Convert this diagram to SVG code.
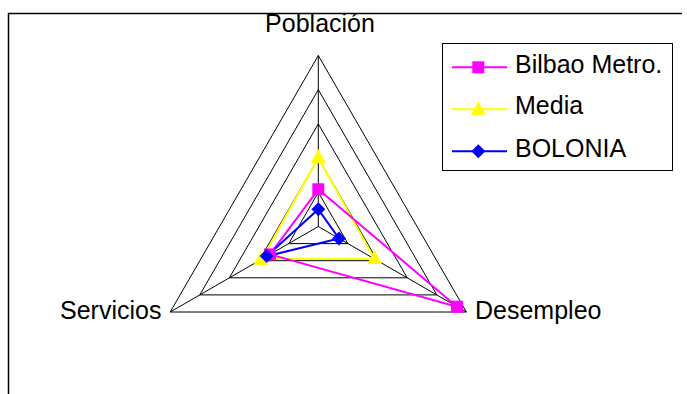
<svg xmlns="http://www.w3.org/2000/svg" width="687" height="394" viewBox="0 0 687 394">
<style>
.lbl{font-family:"Liberation Sans",Arial,sans-serif;font-size:25px;fill:#000}
.grid{fill:none;stroke:#000;stroke-width:1}
.s{fill:none;stroke-width:2;stroke-linejoin:round}
.bil{stroke:#FF00FF}
.med{stroke:#FFFF00}
.bol{stroke:#0000FF}
</style>
<defs>
<rect id="msq" x="-6" y="-6" width="12" height="12" fill="#FF00FF"/>
<polygon id="mtri" points="0,-8 7.5,6 -7.5,6" fill="#FFFF00"/>
<polygon id="mdia" points="0,-7 7,0 0,7 -7,0" fill="#0000FF"/>
</defs>
<rect width="687" height="394" fill="#fff"/>
<polyline points="8.5,394 8.5,13.5 682,13.5" fill="none" stroke="#000" stroke-width="1.5"/>

<g id="grid">
<polygon class="grid" points="318.3,192.3 347.9,243.6 288.7,243.6"/>
<polygon class="grid" points="318.3,158.1 377.5,260.7 259.1,260.7"/>
<polygon class="grid" points="318.3,123.9 407.2,277.8 229.4,277.8"/>
<polygon class="grid" points="318.3,89.7 436.8,294.9 199.8,294.9"/>
<polygon class="grid" points="318.3,55.5 466.4,312 170.2,312"/>
<line class="grid" x1="318.3" y1="226.5" x2="318.3" y2="55.5"/>
<line class="grid" x1="318.3" y1="226.5" x2="466.4" y2="312"/>
<line class="grid" x1="318.3" y1="226.5" x2="170.2" y2="312"/>
</g>

<g id="connectors">
<polygon class="s med" points="318.3,158 374.6,259 262,259"/>
<polygon class="s bil" points="318.3,189.3 457,306.7 270,254.4"/>
<polygon class="s bol" points="318.3,209.3 339,238.5 266.7,256.3"/>
</g>

<g id="series-media">
<use href="#mtri" x="318.3" y="157"/>
<use href="#mtri" x="374.6" y="258"/>
<use href="#mtri" x="261" y="259"/>
</g>
<g id="series-bilbao">
<use href="#msq" x="318.3" y="189.3"/>
<use href="#msq" x="457" y="306.7"/>
<use href="#msq" x="270" y="254.4"/>
</g>
<g id="series-bolonia">
<use href="#mdia" x="318.3" y="209.3"/>
<use href="#mdia" x="339" y="238.5"/>
<use href="#mdia" x="266.7" y="256"/>
</g>

<g id="axis-poblacion"><text class="lbl" x="320" y="32" text-anchor="middle">Población</text></g>
<g id="axis-servicios"><text class="lbl" x="60" y="319">Servicios</text></g>
<g id="axis-desempleo"><text class="lbl" x="475" y="319">Desempleo</text></g>

<g id="legend">
<rect x="442.5" y="43.5" width="230" height="127" fill="#fff" stroke="#000" stroke-width="1"/>
<line class="s bil" x1="452" y1="67.3" x2="507" y2="67.3"/>
<use href="#msq" x="478.3" y="67.3"/>
<text class="lbl" x="515" y="72.5">Bilbao Metro.</text>
<line class="s med" x1="452" y1="109.3" x2="507" y2="109.3"/>
<use href="#mtri" x="478.3" y="109.3"/>
<text class="lbl" x="515" y="114.3">Media</text>
<line class="s bol" x1="452" y1="151.3" x2="507" y2="151.3"/>
<use href="#mdia" x="478.3" y="151.3"/>
<text class="lbl" x="515" y="156.5">BOLONIA</text>
</g>
</svg>
